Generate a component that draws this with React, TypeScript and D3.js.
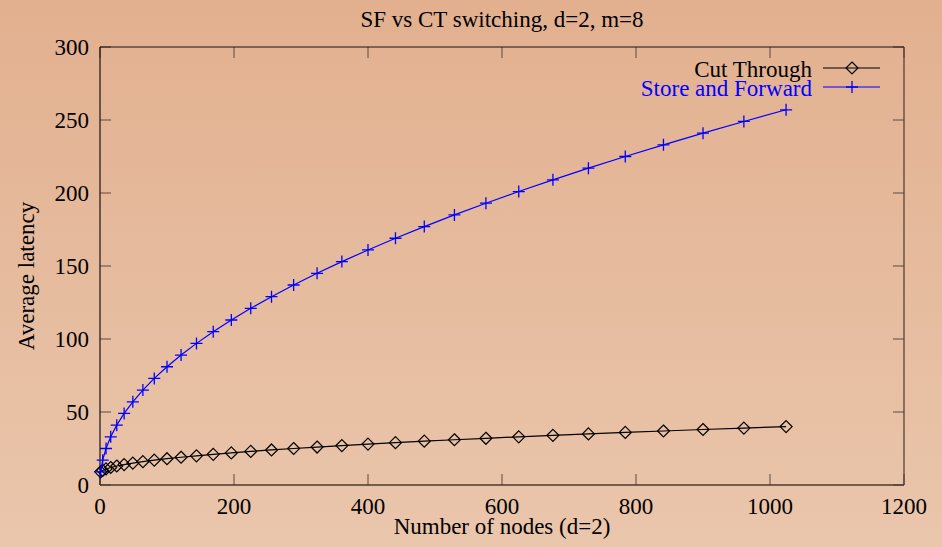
import React from 'react';
import * as d3 from 'd3';

// number of nodes (k^2 for k = 1..32)
const nodes = [1, 4, 9, 16, 25, 36, 49, 64, 81, 100, 121, 144, 169, 196, 225, 256, 289, 324, 361, 400, 441, 484, 529, 576, 625, 676, 729, 784, 841, 900, 961, 1024];
const cutThrough = [9, 10, 11, 12, 13, 14, 15, 16, 17, 18, 19, 20, 21, 22, 23, 24, 25, 26, 27, 28, 29, 30, 31, 32, 33, 34, 35, 36, 37, 38, 39, 40];
const storeForward = [9, 17, 25, 33, 41, 49, 57, 65, 73, 81, 89, 97, 105, 113, 121, 129, 137, 145, 153, 161, 169, 177, 185, 193, 201, 209, 217, 225, 233, 241, 249, 257];
const xTicks = [0, 200, 400, 600, 800, 1000, 1200];
const yTicks = [0, 50, 100, 150, 200, 250, 300];

const W = 942;
const H = 547;
const margin = { top: 47, right: 38, bottom: 62, left: 100 };
const font = '"Liberation Serif", "DejaVu Serif", serif';
const fs = 23;

const diamond = (r: number) => `M0,${-r}L${r},0L0,${r}L${-r},0Z`;
const plus = (r: number) => `M${-r},0H${r}M0,${-r}V${r}`;

const App = () => {
    const x = d3.scaleLinear().domain([0, 1200]).range([margin.left, W - margin.right]);
    const y = d3.scaleLinear().domain([0, 300]).range([H - margin.bottom, margin.top]);

    const ctPts = nodes.map((n, i) => [n, cutThrough[i]] as [number, number]);
    const sfPts = nodes.map((n, i) => [n, storeForward[i]] as [number, number]);

    const line = d3.line<[number, number]>()
        .x(d => x(d[0]))
        .y(d => y(d[1]));

    const x0 = x(0), x1 = x(1200), y0 = y(0), y1 = y(300);
    const tickLen = 11;
    const tickColor = '#5a4a40';

    return (
        <svg width={W} height={H} style={{ position: 'fixed', top: 0, left: 0 }} fontFamily={font}>
            <defs>
                <linearGradient id="bg" x1="0" y1="0" x2="0" y2="1">
                    <stop offset="0%" stopColor="#e2b08f" />
                    <stop offset="100%" stopColor="#eac6ac" />
                </linearGradient>
            </defs>
            <rect width={W} height={H} fill="url(#bg)" />

            {/* title */}
            <text x={(x0 + x1) / 2} y={27} textAnchor="middle" fontSize={fs}>SF vs CT switching, d=2, m=8</text>

            {/* ticks */}
            {xTicks.map(t => (
                <g key={'x' + t}>
                    <line x1={x(t)} x2={x(t)} y1={y0} y2={y0 - tickLen} stroke={tickColor} />
                    <line x1={x(t)} x2={x(t)} y1={y1} y2={y1 + tickLen} stroke={tickColor} />
                    <text x={x(t)} y={514} textAnchor="middle" fontSize={fs}>{t}</text>
                </g>
            ))}
            {yTicks.map(t => (
                <g key={'y' + t}>
                    <line x1={x0} x2={x0 + tickLen} y1={y(t)} y2={y(t)} stroke={tickColor} />
                    <line x1={x1} x2={x1 - tickLen} y1={y(t)} y2={y(t)} stroke={tickColor} />
                    <text x={89} y={y(t) + 7.5} textAnchor="end" fontSize={fs}>{t}</text>
                </g>
            ))}

            {/* frame */}
            <line x1={x0} x2={x1} y1={y1} y2={y1} stroke="#1a1410" strokeWidth={1.2} />
            <line x1={x0} x2={x0} y1={y1} y2={y0} stroke="#1a1410" strokeWidth={1.2} />
            <line x1={x1} x2={x1} y1={y1} y2={y0} stroke="#4a3a30" strokeWidth={1.2} />
            <line x1={x0} x2={x1} y1={y0} y2={y0} stroke="#4a3a30" strokeWidth={1.5} />

            {/* axis labels */}
            <text x={(x0 + x1) / 2} y={534} textAnchor="middle" fontSize={fs}>Number of nodes (d=2)</text>
            <text transform={`translate(34,${276}) rotate(-90)`} textAnchor="middle" fontSize={fs}>Average latency</text>

            {/* series */}
            <path d={line(ctPts) ?? ''} fill="none" stroke="#000" strokeWidth={1.2} />
            {ctPts.map((p, i) => (
                <path key={'c' + i} d={diamond(6)} transform={`translate(${x(p[0])},${y(p[1])})`} fill="none" stroke="#000" strokeWidth={1.2} />
            ))}
            <path d={line(sfPts) ?? ''} fill="none" stroke="#0000ff" strokeWidth={1.2} />
            {sfPts.map((p, i) => (
                <path key={'s' + i} d={plus(6)} transform={`translate(${x(p[0])},${y(p[1])})`} fill="none" stroke="#0000ff" strokeWidth={1.3} />
            ))}

            {/* legend */}
            <text x={812} y={77} textAnchor="end" fontSize={fs}>Cut Through</text>
            <line x1={823} x2={880} y1={68} y2={68} stroke="#000" strokeWidth={1.2} />
            <path d={diamond(6)} transform="translate(852,68)" fill="none" stroke="#000" strokeWidth={1.2} />
            <text x={812} y={96} textAnchor="end" fontSize={fs} fill="#0000ff">Store and Forward</text>
            <line x1={823} x2={880} y1={87} y2={87} stroke="#0000ff" strokeWidth={1.2} />
            <path d={plus(6)} transform="translate(852,87)" fill="none" stroke="#0000ff" strokeWidth={1.3} />
        </svg>
    );
};

export default App;
